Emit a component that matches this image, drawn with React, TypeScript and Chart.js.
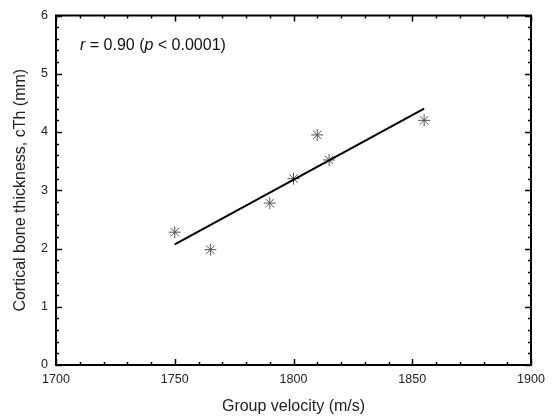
import React, { useEffect, useRef } from "react";
import { Chart, registerables } from "chart.js";

Chart.register(...registerables);

const velocity = [1750, 1765, 1790, 1800, 1810, 1815, 1855];
const thickness = [2.28, 1.98, 2.78, 3.2, 3.95, 3.52, 4.2];
const fitX = [1750, 1855];
const fitY = [2.07, 4.4];
const xTicks = [1700, 1750, 1800, 1850, 1900];
const yTicks = [0, 1, 2, 3, 4, 5, 6];
const xMinorStep = 10;
const yMinorStep = 0.2;

const FONT = "'Liberation Sans', Arial, sans-serif";

const boxPlugin = {
  id: "boxTicks",
  afterDraw(chart: any) {
    const { ctx, chartArea: a, scales } = chart;
    const xs = scales.x;
    const ys = scales.y;
    ctx.save();
    ctx.strokeStyle = "#000";
    ctx.lineWidth = 2;
    ctx.strokeRect(a.left, a.top, a.right - a.left, a.bottom - a.top);
    ctx.lineWidth = 1.5;
    const major = 6;
    const minor = 3;
    const eps = 1e-6;
    ctx.beginPath();
    for (let v = xs.min; v <= xs.max + eps; v += xMinorStep) {
      const isMajor = xTicks.some((t) => Math.abs(t - v) < eps);
      const len = isMajor ? major : minor;
      const px = Math.round(xs.getPixelForValue(v)) + 0.5;
      ctx.moveTo(px, a.bottom);
      ctx.lineTo(px, a.bottom - len);
      ctx.moveTo(px, a.top);
      ctx.lineTo(px, a.top + len);
    }
    for (let i = 0; ys.min + i * yMinorStep <= ys.max + eps; i++) {
      const v = ys.min + i * yMinorStep;
      const isMajor = yTicks.some((t) => Math.abs(t - v) < eps);
      const len = isMajor ? major : minor;
      const py = Math.round(ys.getPixelForValue(v)) + 0.5;
      ctx.moveTo(a.left, py);
      ctx.lineTo(a.left + len, py);
      ctx.moveTo(a.right, py);
      ctx.lineTo(a.right - len, py);
    }
    ctx.stroke();

    // annotation
    ctx.fillStyle = "#111";
    ctx.textBaseline = "middle";
    ctx.textAlign = "left";
    let x = a.left + 24;
    const y = a.top + 30;
    const parts: [string, boolean][] = [
      ["r", true],
      [" = 0.90 (", false],
      ["p", true],
      [" < 0.0001)", false],
    ];
    for (const [t, it] of parts) {
      ctx.font = `${it ? "italic " : ""}16px ${FONT}`;
      ctx.fillText(t, x, y);
      x += ctx.measureText(t).width;
    }
    ctx.restore();
  },
};

export default function App() {
  const ref = useRef<HTMLCanvasElement | null>(null);
  useEffect(() => {
    document.body.style.margin = "0";
    const chart = new Chart(ref.current!, {
      type: "scatter",
      data: {
        datasets: [
          {
            type: "line",
            data: fitX.map((x, i) => ({ x, y: fitY[i] })),
            borderColor: "#000",
            borderWidth: 2,
            pointRadius: 0,
            fill: false,
          } as any,
          {
            data: velocity.map((x, i) => ({ x, y: thickness[i] })),
            pointStyle: "star",
            pointRadius: 6,
            borderColor: "#555",
            backgroundColor: "#555",
            pointBorderWidth: 1,
          },
        ],
      },
      options: {
        animation: false,
        responsive: false,
        layout: { padding: { top: 14, right: 22, left: 0, bottom: 0 } },
        plugins: { legend: { display: false }, tooltip: { enabled: false } },
        scales: {
          x: {
            type: "linear",
            min: 1700,
            max: 1900,
            afterBuildTicks: (s: any) => {
              s.ticks = xTicks.map((v) => ({ value: v }));
            },
            afterFit: (s: any) => {
              s.height = 51;
            },
            grid: { display: false, drawTicks: false },
            border: { display: false },
            ticks: {
              color: "#222",
              font: { family: FONT, size: 12.5 },
              padding: 7,
              maxRotation: 0,
              callback: (v: any) => String(v),
            },
            title: {
              display: true,
              text: "Group velocity (m/s)",
              color: "#222",
              font: { family: FONT, size: 16 },
              padding: { top: 5, bottom: 0 },
            },
          },
          y: {
            type: "linear",
            min: 0,
            max: 6,
            afterBuildTicks: (s: any) => {
              s.ticks = yTicks.map((v) => ({ value: v }));
            },
            afterFit: (s: any) => {
              s.width = 56;
            },
            grid: { display: false, drawTicks: false },
            border: { display: false },
            ticks: {
              color: "#222",
              font: { family: FONT, size: 12.5 },
              padding: 8,
              callback: (v: any) => String(v),
            },
            title: {
              display: true,
              text: "Cortical bone thickness, cTh (mm)",
              color: "#222",
              font: { family: FONT, size: 16 },
              padding: { top: 11, bottom: 4 },
            },
          },
        },
      },
      plugins: [boxPlugin],
    });
    return () => chart.destroy();
  }, []);
  return (
    <div style={{ width: 553, height: 416 }}>
      <canvas ref={ref} width={553} height={416} />
    </div>
  );
}
